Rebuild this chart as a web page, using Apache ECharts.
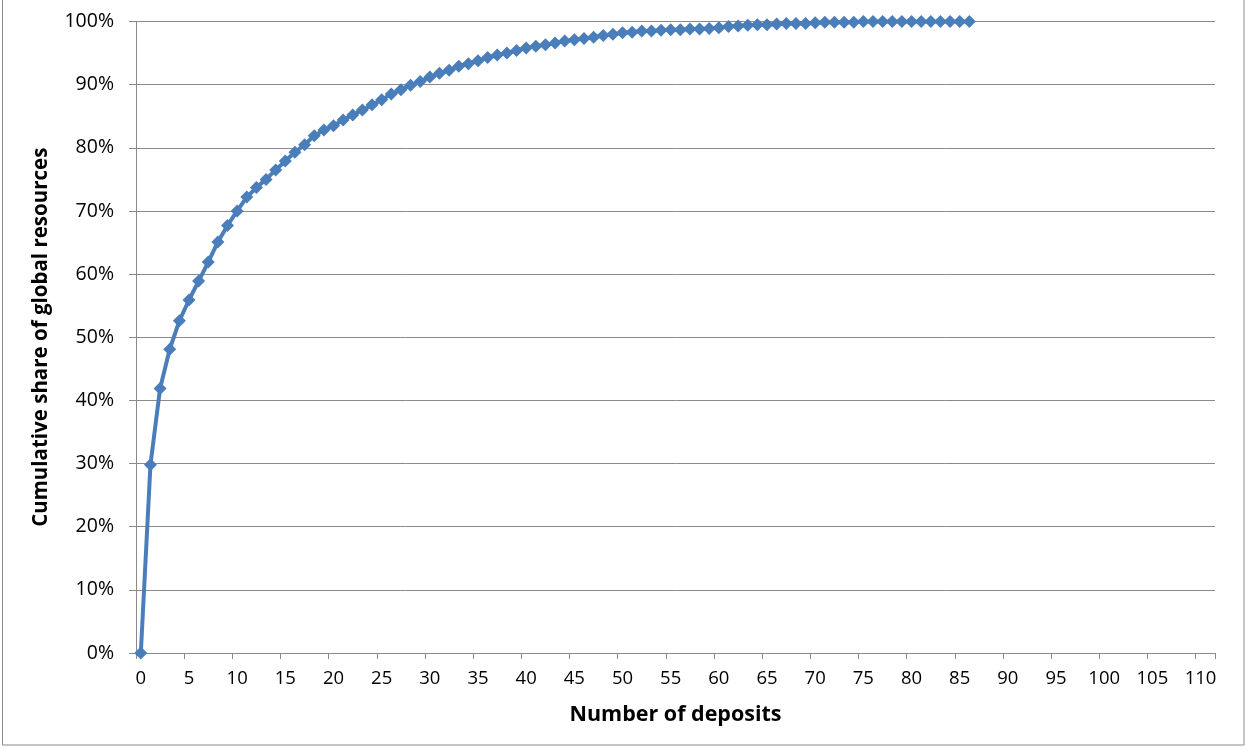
<!DOCTYPE html>
<html>
<head>
<meta charset="utf-8">
<script src="https://cdn.jsdelivr.net/npm/echarts@6/dist/echarts.min.js"></script>
<style>
  html, body { margin: 0; padding: 0; background: #fff; }
  #chart { width: 1247px; height: 747px; }
</style>
</head>
<body>
<div id="chart"></div>
<script>
// Categories: number of deposits 0..111
const categories = [];
for (let i = 0; i <= 111; i++) categories.push(String(i));

// Cumulative share of global resources (%) for deposits 0..86
const cumulativeShare = [
  0, 29.8, 41.9, 48.1, 52.6, 55.9, 58.9, 61.9, 65.1, 67.7,
  70.0, 72.2, 73.7, 75.0, 76.5, 77.9, 79.3, 80.5, 81.9, 82.8,
  83.5, 84.4, 85.2, 86.0, 86.8, 87.6, 88.5, 89.2, 89.9, 90.5,
  91.2, 91.8, 92.3, 92.9, 93.3, 93.8, 94.3, 94.7, 95.0, 95.4,
  95.8, 96.1, 96.3, 96.6, 96.9, 97.1, 97.3, 97.5, 97.8, 98.0,
  98.2, 98.3, 98.5, 98.5, 98.6, 98.7, 98.7, 98.8, 98.8, 98.9,
  99.0, 99.2, 99.3, 99.4, 99.5, 99.5, 99.6, 99.7, 99.7, 99.7,
  99.8, 99.9, 99.9, 99.9, 99.9, 100, 100, 100, 100, 100,
  100, 100, 100, 100, 100, 100, 100
];

const xTitle = 'Number of deposits';
const yTitle = 'Cumulative share of global resources';

const chart = echarts.init(document.getElementById('chart'));
const fontFam = '"Open Sans", "Noto Sans", sans-serif';
chart.setOption({
  animation: false,
  backgroundColor: '#fff',
  grid: { left: 136, right: 32, top: 21.5, bottom: 94, containLabel: false },
  graphic: [{
    type: 'rect',
    shape: { x: 2.5, y: -2, width: 1241.5, height: 747 },
    style: { fill: 'none', stroke: '#8a8a8a', lineWidth: 1 },
    silent: true
  }],
  xAxis: {
    type: 'category',
    data: categories,
    boundaryGap: true,
    name: xTitle,
    nameLocation: 'middle',
    nameGap: 51,
    nameTextStyle: { fontFamily: fontFam, fontWeight: 'bold', fontSize: 21.5, color: '#000' },
    axisLine: { lineStyle: { color: '#8a8a8a', width: 1 } },
    axisTick: { show: true, interval: 4, length: 6, lineStyle: { color: '#8a8a8a' } },
    axisLabel: { interval: 4, margin: 16, fontFamily: fontFam, fontSize: 18.5, color: '#000' },
    splitLine: { show: false }
  },
  yAxis: {
    type: 'value',
    min: 0, max: 100, interval: 10,
    name: yTitle,
    nameLocation: 'middle',
    nameGap: 84,
    nameRotate: 90,
    nameTextStyle: { fontFamily: fontFam, fontWeight: 'bold', fontSize: 20.5, color: '#000' },
    axisLine: { show: true, lineStyle: { color: '#8a8a8a', width: 1 } },
    axisTick: { show: true, length: 7, lineStyle: { color: '#8a8a8a' } },
    axisLabel: { formatter: '{value}%', margin: 22, fontFamily: fontFam, fontSize: 19.5, color: '#000' },
    splitLine: { show: true, lineStyle: { color: '#8a8a8a', width: 1 } }
  },
  series: [{
    type: 'line',
    data: cumulativeShare,
    symbol: 'diamond',
    symbolSize: [13, 13],
    showAllSymbol: true,
    lineStyle: { color: '#4a7ebb', width: 4 },
    itemStyle: { color: '#4a7ebb' }
  }]
});
</script>
</body>
</html>
